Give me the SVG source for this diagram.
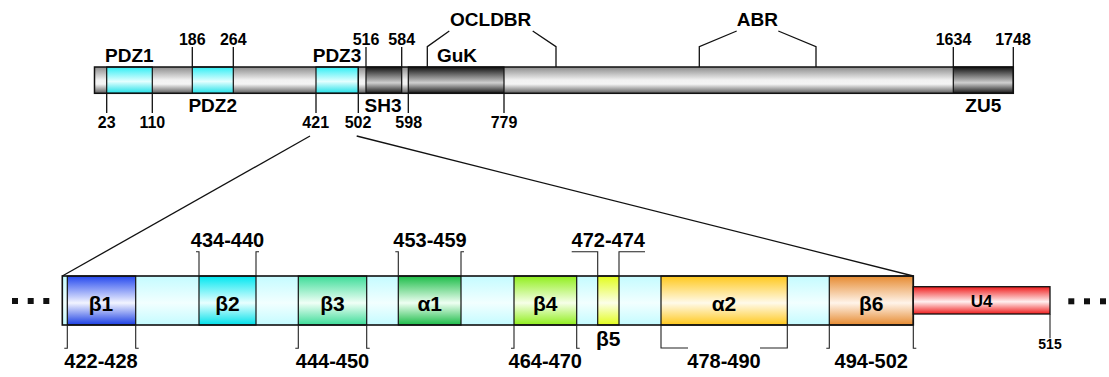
<svg xmlns="http://www.w3.org/2000/svg" width="1109" height="377" viewBox="0 0 1109 377">
<defs>
<linearGradient id="gGray" x1="0" y1="0" x2="0" y2="1"><stop offset="0" stop-color="#8c8c8c"/><stop offset="0.5" stop-color="#f2f2f2"/><stop offset="0.65" stop-color="#f4f4f4"/><stop offset="1" stop-color="#5c5c5c"/></linearGradient>
<linearGradient id="gDark" x1="0" y1="0" x2="0" y2="1"><stop offset="0" stop-color="#111"/><stop offset="0.6" stop-color="#cfcfcf"/><stop offset="1" stop-color="#151515"/></linearGradient>
<linearGradient id="gPdz" x1="0" y1="0" x2="0" y2="1"><stop offset="0" stop-color="#30eef4"/><stop offset="0.55" stop-color="#e4ffff"/><stop offset="1" stop-color="#20e0e8"/></linearGradient>
<linearGradient id="gBg" x1="0" y1="0" x2="0" y2="1"><stop offset="0" stop-color="#c4fbff"/><stop offset="0.55" stop-color="#f2ffff"/><stop offset="1" stop-color="#c4fbff"/></linearGradient>
<linearGradient id="gB1" x1="0" y1="0" x2="0" y2="1"><stop offset="0" stop-color="#2448ee"/><stop offset="0.55" stop-color="#f2f4ff"/><stop offset="1" stop-color="#1a3ee4"/></linearGradient>
<linearGradient id="gB2" x1="0" y1="0" x2="0" y2="1"><stop offset="0" stop-color="#00e6f0"/><stop offset="0.55" stop-color="#e8ffff"/><stop offset="1" stop-color="#00e0ea"/></linearGradient>
<linearGradient id="gB3" x1="0" y1="0" x2="0" y2="1"><stop offset="0" stop-color="#3cdc98"/><stop offset="0.55" stop-color="#f0fff6"/><stop offset="1" stop-color="#3cdc98"/></linearGradient>
<linearGradient id="gA1" x1="0" y1="0" x2="0" y2="1"><stop offset="0" stop-color="#1cbc48"/><stop offset="0.55" stop-color="#eefff2"/><stop offset="1" stop-color="#1cbc48"/></linearGradient>
<linearGradient id="gB4" x1="0" y1="0" x2="0" y2="1"><stop offset="0" stop-color="#90ee1c"/><stop offset="0.55" stop-color="#f6ffe8"/><stop offset="1" stop-color="#90ee1c"/></linearGradient>
<linearGradient id="gB5" x1="0" y1="0" x2="0" y2="1"><stop offset="0" stop-color="#e2fc1c"/><stop offset="0.55" stop-color="#fcffe8"/><stop offset="1" stop-color="#e2fc1c"/></linearGradient>
<linearGradient id="gA2" x1="0" y1="0" x2="0" y2="1"><stop offset="0" stop-color="#ffc81c"/><stop offset="0.55" stop-color="#fffaea"/><stop offset="1" stop-color="#ffc81c"/></linearGradient>
<linearGradient id="gB6" x1="0" y1="0" x2="0" y2="1"><stop offset="0" stop-color="#e68a30"/><stop offset="0.55" stop-color="#fff4ea"/><stop offset="1" stop-color="#e68a30"/></linearGradient>
<linearGradient id="gU4" x1="0" y1="0" x2="0" y2="1"><stop offset="0" stop-color="#f01c1c"/><stop offset="0.55" stop-color="#fff0f0"/><stop offset="1" stop-color="#f01c1c"/></linearGradient>
</defs>
<style>
text{font-family:"Liberation Sans",Arial,sans-serif;font-weight:bold;fill:#000;text-anchor:middle}
.dom{font-size:19px}
.num{font-size:16px}
.rng{font-size:20px}
.ss{font-size:21px}
.sm{font-size:14px}
.seg{stroke:#111;stroke-width:1.2}
.ln{fill:none;stroke:#111;stroke-width:1.3}
.br{fill:none;stroke:#222;stroke-width:1.1}
.dot{fill:#111}
</style>

<g id="full-protein">
<rect x="94.5" y="67" width="918.8" height="26.3" fill="url(#gGray)"/>
<rect x="106.7" y="67" width="45.6" height="26.3" fill="url(#gPdz)" class="seg"/>
<rect x="192.3" y="67" width="41" height="26.3" fill="url(#gPdz)" class="seg"/>
<rect x="316" y="67" width="42.3" height="26.3" fill="url(#gPdz)" class="seg"/>
<rect x="366" y="67" width="35.7" height="26.3" fill="url(#gDark)" class="seg"/>
<rect x="408.3" y="67" width="95.7" height="26.3" fill="url(#gDark)" class="seg"/>
<rect x="953.3" y="67" width="60" height="26.3" fill="url(#gDark)" class="seg"/>
<rect x="94.5" y="67" width="918.8" height="26.3" fill="none" stroke="#111" stroke-width="1.5"/>
</g>

<g id="labels-top">
<text class="dom" x="129.3" y="62">PDZ1</text>
<text class="dom" x="212.7" y="112">PDZ2</text>
<text class="dom" x="337" y="62">PDZ3</text>
<text class="dom" x="383" y="112">SH3</text>
<text class="dom" x="457" y="62">GuK</text>
<text class="dom" x="983.3" y="112">ZU5</text>
<text class="dom" x="490.7" y="26">OCLDBR</text>
<text class="dom" x="757.3" y="26">ABR</text>
<text class="num" x="192.3" y="44.5">186</text>
<text class="num" x="233.3" y="44.5">264</text>
<text class="num" x="366" y="44.5">516</text>
<text class="num" x="401.7" y="44.5">584</text>
<text class="num" x="953.5" y="44.5">1634</text>
<text class="num" x="1013" y="44.5">1748</text>
<text class="num" x="106.7" y="128">23</text>
<text class="num" x="152.3" y="128">110</text>
<text class="num" x="315.7" y="128">421</text>
<text class="num" x="358" y="128">502</text>
<text class="num" x="408.7" y="128">598</text>
<text class="num" x="504" y="128">779</text>
</g>

<g id="pdz3-domain">
<rect x="62.3" y="276" width="851" height="49" fill="url(#gBg)"/>
<rect x="67.3" y="276" width="68.4" height="49" fill="url(#gB1)" class="seg"/>
<rect x="199" y="276" width="57" height="49" fill="url(#gB2)" class="seg"/>
<rect x="298.3" y="276" width="68.4" height="49" fill="url(#gB3)" class="seg"/>
<rect x="398.3" y="276" width="62.7" height="49" fill="url(#gA1)" class="seg"/>
<rect x="514" y="276" width="62.7" height="49" fill="url(#gB4)" class="seg"/>
<rect x="597.7" y="276" width="21.3" height="49" fill="url(#gB5)" class="seg"/>
<rect x="661" y="276" width="126.3" height="49" fill="url(#gA2)" class="seg"/>
<rect x="829.3" y="276" width="84" height="49" fill="url(#gB6)" class="seg"/>
<rect x="62.3" y="276" width="851" height="49" fill="none" stroke="#111" stroke-width="1.6"/>
<rect x="913.3" y="286.7" width="136.7" height="27.3" fill="url(#gU4)" stroke="#111" stroke-width="1.3"/>
</g>

<g id="labels-bottom">
<text class="ss" x="101" y="311">β1</text>
<text class="ss" x="227.5" y="311">β2</text>
<text class="ss" x="332.5" y="311">β3</text>
<text class="ss" x="429.7" y="311">α1</text>
<text class="ss" x="545.3" y="311">β4</text>
<text class="ss" x="608.3" y="346">β5</text>
<text class="ss" x="724" y="311">α2</text>
<text class="ss" x="871.3" y="311">β6</text>
<text style="font-size:17px" x="981.7" y="306.5">U4</text>
<text class="rng" x="227.5" y="247">434-440</text>
<text class="rng" x="430" y="247">453-459</text>
<text class="rng" x="608.3" y="247">472-474</text>
<text class="rng" x="101" y="368">422-428</text>
<text class="rng" x="332.5" y="368">444-450</text>
<text class="rng" x="545.3" y="368">464-470</text>
<text class="rng" x="724" y="368">478-490</text>
<text class="rng" x="871.3" y="368">494-502</text>
<text class="sm" x="1050" y="348.5">515</text>
</g>

<g id="dots-left">
<rect class="dot" x="12" y="298" width="6" height="6"/>
<rect class="dot" x="27.7" y="298" width="6" height="6"/>
<rect class="dot" x="43.3" y="298" width="6" height="6"/>
</g>
<g id="dots-right">
<rect class="dot" x="1068.3" y="298.3" width="6" height="6"/>
<rect class="dot" x="1084" y="298.3" width="6" height="6"/>
<rect class="dot" x="1100" y="298.3" width="6" height="6"/>
</g>

<g id="connectors">
<path class="ln" d="M106.7 93.3V113M152.3 93.3V113M316 93.3V113M358.3 67V113M408.3 93.3V113M504 93.3V113"/>
<path class="ln" d="M192.3 47V67M233.3 47V67M366 47V67M401.7 47V67M953.3 47V67M1013.3 47V67"/>
<polyline class="ln" points="427.3,67 427.3,46.7 449.3,31"/>
<polyline class="ln" points="532.7,31 556,46.7 556,67"/>
<polyline class="ln" points="699.3,67 699.3,46.7 736.7,31"/>
<polyline class="ln" points="778.3,31 816,46.7 816,67"/>
<line class="ln" x1="310" y1="136" x2="62.3" y2="276"/>
<line class="ln" x1="356.7" y1="136" x2="913.3" y2="276"/>
<polyline class="br" points="196,251.7 199,251.7 199,276"/>
<polyline class="br" points="259,251.7 256,251.7 256,276"/>
<polyline class="br" points="395.3,251.7 398.3,251.7 398.3,276"/>
<polyline class="br" points="464,251.7 461,251.7 461,276"/>
<polyline class="br" points="571.7,251.7 597.7,251.7 597.7,276"/>
<polyline class="br" points="645,251.7 619,251.7 619,276"/>
<polyline class="br" points="64.3,348.3 67.3,348.3 67.3,325"/>
<polyline class="br" points="138.7,348.3 135.7,348.3 135.7,325"/>
<polyline class="br" points="295.3,348.3 298.3,348.3 298.3,325"/>
<polyline class="br" points="369.7,348.3 366.7,348.3 366.7,325"/>
<polyline class="br" points="511,348.3 514,348.3 514,325"/>
<polyline class="br" points="579.7,348.3 576.7,348.3 576.7,325"/>
<polyline class="br" points="688,348 661,348 661,325"/>
<polyline class="br" points="760,348 787.3,348 787.3,325"/>
<polyline class="br" points="826.3,348.3 829.3,348.3 829.3,325"/>
<polyline class="br" points="916.3,348.3 913.3,348.3 913.3,325"/>
<line class="br" x1="1050" y1="314" x2="1050" y2="338.3"/>
</g>
</svg>
